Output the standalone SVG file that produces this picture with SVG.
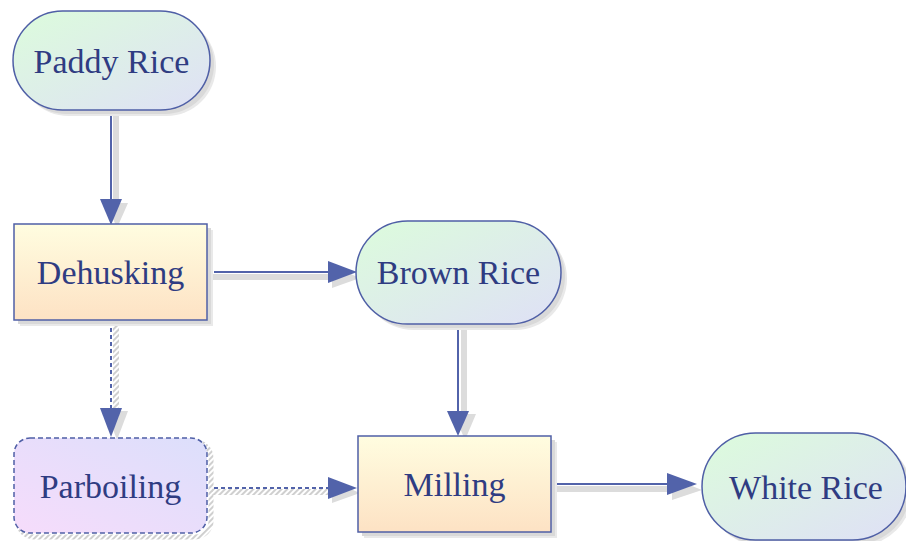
<svg xmlns="http://www.w3.org/2000/svg" width="906" height="541" viewBox="0 0 906 541">
<defs>
<linearGradient id="gStad" x1="0" y1="0" x2="1" y2="1">
<stop offset="0" stop-color="#dcfcdc"/>
<stop offset="1" stop-color="#dfe0f6"/>
</linearGradient>
<linearGradient id="gRect" x1="0" y1="0" x2="0" y2="1">
<stop offset="0" stop-color="#fffde0"/>
<stop offset="1" stop-color="#fde2c4"/>
</linearGradient>
<linearGradient id="gPar" x1="0" y1="1" x2="1" y2="0">
<stop offset="0" stop-color="#f6dcfb"/>
<stop offset="1" stop-color="#dcdffb"/>
</linearGradient>
<pattern id="hatch" width="4" height="4" patternUnits="userSpaceOnUse" patternTransform="rotate(45)">
<rect width="2" height="4" fill="#cfcfcf"/>
</pattern>
</defs>
<style>
.node{stroke:#4f5fa6;stroke-width:1.5}
.sh1{fill:#e9e9e9;stroke:none}
.sh2{fill:#d9d9d9;stroke:none}
.e{stroke:#5263aa;stroke-width:2;fill:none}
.ed{stroke:#5263aa;stroke-width:2;fill:none;stroke-dasharray:4 3}
.es{stroke:#dcdcdc;stroke-width:6;fill:none}
.eh{stroke:url(#hatch);stroke-width:6;fill:none}
.ah{fill:#5263aa}
.ahs{fill:#dcdcdc}
</style>
<g id="connectors">
<line class="es" x1="116" y1="113" x2="116" y2="203"/>
<polygon class="ahs" points="106,203 128,203 117,228"/>
<line class="es" x1="212" y1="277" x2="332" y2="277"/>
<polygon class="ahs" points="332,266 332,288 360,278"/>
<line class="eh" x1="116" y1="323" x2="116" y2="411"/>
<polygon class="ahs" points="106,411 128,411 117,440"/>
<line class="es" x1="464" y1="326" x2="464" y2="414"/>
<polygon class="ahs" points="454,414 476,414 465,440"/>
<line class="eh" x1="212" y1="492" x2="332" y2="492"/>
<polygon class="ahs" points="332,481 332,503 360,493"/>
<line class="es" x1="556" y1="489" x2="672" y2="489"/>
<polygon class="ahs" points="672,478 672,500 702,490"/>
<line class="e" x1="111" y1="110" x2="111" y2="200"/>
<polygon class="ah" points="100,199 122,199 111,225"/>
<line class="e" x1="214" y1="272" x2="330" y2="272"/>
<polygon class="ah" points="328,261 328,283 357,272"/>
<line class="ed" x1="111" y1="321" x2="111" y2="410"/>
<polygon class="ah" points="100,408 122,408 111,437"/>
<line class="e" x1="458" y1="324" x2="458" y2="412"/>
<polygon class="ah" points="447,411 469,411 458,436"/>
<line class="ed" x1="214" y1="488" x2="330" y2="488"/>
<polygon class="ah" points="328,477 328,499 357,488"/>
<line class="e" x1="557" y1="484" x2="668" y2="484"/>
<polygon class="ah" points="667,473 667,495 697,484"/>
</g>
<g id="paddy-rice">
<rect class="sh1" x="19" y="17" width="197" height="99" rx="49.5"/>
<rect class="sh2" x="17" y="15" width="197" height="99" rx="49.5"/>
<rect class="node" x="13" y="11" width="197" height="99" rx="49.5" fill="url(#gStad)"/>
<text x="111.5" y="73" font-size="34" fill="#2f3c82" text-anchor="middle" style="font-family:'Liberation Serif',serif">Paddy Rice</text>
</g>
<g id="dehusking">
<rect class="sh1" x="20" y="230" width="193" height="96"/>
<rect class="sh2" x="18" y="228" width="193" height="96"/>
<rect class="node" x="14" y="224" width="193" height="96" fill="url(#gRect)"/>
<text x="110.5" y="284" font-size="34" fill="#2f3c82" text-anchor="middle" style="font-family:'Liberation Serif',serif">Dehusking</text>
</g>
<g id="brown-rice">
<rect class="sh1" x="362" y="227" width="205" height="103" rx="51.5"/>
<rect class="sh2" x="360" y="225" width="205" height="103" rx="51.5"/>
<rect class="node" x="356" y="221" width="205" height="103" rx="51.5" fill="url(#gStad)"/>
<text x="458.5" y="284" font-size="34" fill="#2f3c82" text-anchor="middle" style="font-family:'Liberation Serif',serif">Brown Rice</text>
</g>
<g id="parboiling">
<rect x="18" y="442" width="193" height="95" rx="16" fill="none" stroke="url(#hatch)" stroke-width="5"/>
<rect class="node" x="14" y="438" width="193" height="95" rx="16" fill="url(#gPar)" stroke-dasharray="5 3"/>
<text x="110.5" y="498" font-size="34" fill="#2f3c82" text-anchor="middle" style="font-family:'Liberation Serif',serif">Parboiling</text>
</g>
<g id="milling">
<rect class="sh1" x="364" y="442" width="193" height="96"/>
<rect class="sh2" x="362" y="440" width="193" height="96"/>
<rect class="node" x="358" y="436" width="193" height="96" fill="url(#gRect)"/>
<text x="454.5" y="496" font-size="34" fill="#2f3c82" text-anchor="middle" style="font-family:'Liberation Serif',serif">Milling</text>
</g>
<g id="white-rice">
<rect class="sh1" x="708" y="439" width="204" height="107" rx="53.5"/>
<rect class="sh2" x="706" y="437" width="204" height="107" rx="53.5"/>
<rect class="node" x="702" y="433" width="204" height="107" rx="53.5" fill="url(#gStad)"/>
<text x="806" y="499" font-size="34" fill="#2f3c82" text-anchor="middle" style="font-family:'Liberation Serif',serif">White Rice</text>
</g>
</svg>
